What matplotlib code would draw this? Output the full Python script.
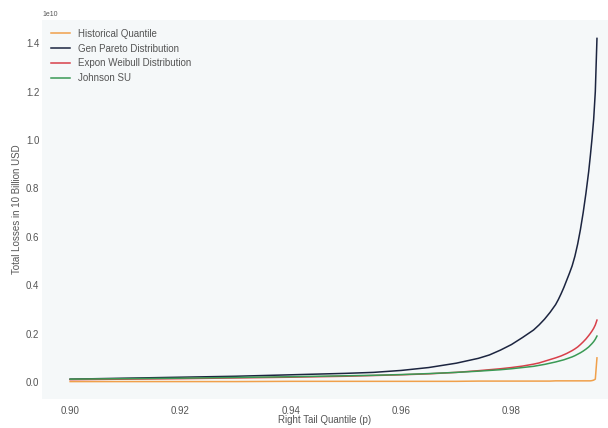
import matplotlib
matplotlib.use("Agg")
import matplotlib.pyplot as plt
import numpy as np

# Right tail quantile levels
p = [0.900, 0.910, 0.920, 0.930, 0.940, 0.950, 0.955, 0.960, 0.965, 0.970,
     0.974, 0.976, 0.978, 0.980, 0.982, 0.984, 0.985, 0.986, 0.987, 0.988,
     0.9885, 0.989, 0.9895, 0.990, 0.9905, 0.991, 0.9915, 0.992, 0.9925, 0.993,
     0.9935, 0.994, 0.9943, 0.9946, 0.9949, 0.9952, 0.9955]

# Total losses, in units of 1e10 USD
historical = [0.002, 0.002, 0.002, 0.002, 0.003, 0.003, 0.003, 0.003, 0.003, 0.003,
              0.004, 0.004, 0.004, 0.004, 0.004, 0.004, 0.004, 0.004, 0.004, 0.005,
              0.005, 0.005, 0.005, 0.005, 0.005, 0.005, 0.005, 0.005, 0.005, 0.005,
              0.005, 0.005, 0.005, 0.006, 0.008, 0.012, 0.100]
gen_pareto = [0.012, 0.016, 0.020, 0.024, 0.030, 0.036, 0.040, 0.048, 0.060, 0.078,
              0.098, 0.112, 0.132, 0.155, 0.184, 0.215, 0.236, 0.260, 0.288, 0.320,
              0.341, 0.365, 0.391, 0.420, 0.449, 0.480, 0.520, 0.570, 0.630, 0.700,
              0.780, 0.870, 0.935, 1.005, 1.085, 1.200, 1.420]
expon_weibull = [0.010, 0.012, 0.014, 0.017, 0.020, 0.024, 0.027, 0.030, 0.034, 0.040,
                 0.047, 0.051, 0.055, 0.060, 0.066, 0.074, 0.079, 0.086, 0.093, 0.100,
                 0.104, 0.108, 0.113, 0.118, 0.124, 0.130, 0.137, 0.145, 0.155, 0.166,
                 0.178, 0.192, 0.201, 0.211, 0.222, 0.236, 0.256]
johnson_su = [0.012, 0.014, 0.016, 0.019, 0.022, 0.026, 0.028, 0.031, 0.035, 0.040,
              0.045, 0.048, 0.051, 0.055, 0.060, 0.065, 0.069, 0.073, 0.078, 0.083,
              0.086, 0.089, 0.092, 0.096, 0.100, 0.104, 0.109, 0.115, 0.121, 0.128,
              0.136, 0.145, 0.152, 0.159, 0.167, 0.177, 0.190]

plt.rcParams['font.family'] = ['Liberation Sans', 'DejaVu Sans']
txt = '#555555'

fig = plt.figure(figsize=(6.08, 4.28), dpi=100)
ax = fig.add_axes([42/608, 29/428, 566/608, 379/428])
ax.set_facecolor('#f5f8f9')

scale = 1e10
ax.plot(p, np.array(historical) * scale, color='#f0a04b', lw=1.1, label='Historical Quantile')
ax.plot(p, np.array(gen_pareto) * scale, color='#1c2540', lw=1.1, label='Gen Pareto Distribution')
ax.plot(p, np.array(expon_weibull) * scale, color='#d8404a', lw=1.1, label='Expon Weibull Distribution')
ax.plot(p, np.array(johnson_su) * scale, color='#3a9a55', lw=1.1, label='Johnson SU')

ax.set_xlim(0.8949, 0.9975)
ax.set_ylim(-0.07e10, 1.496e10)
ax.set_xticks([0.90, 0.92, 0.94, 0.96, 0.98])
ax.set_yticks(np.arange(0, 1.41, 0.2) * scale)

for s in ax.spines.values():
    s.set_visible(False)
ax.tick_params(axis='both', length=0, labelsize=7, colors=txt)
ax.tick_params(axis='x', pad=5)
ax.tick_params(axis='y', pad=2)
ax.yaxis.get_offset_text().set_fontsize(5)
ax.yaxis.get_offset_text().set_color(txt)

ax.set_xlabel('Right Tail Quantile (p)', fontsize=7, color=txt, labelpad=-1)
ax.set_ylabel('Total Losses in 10 Billion USD', fontsize=7, color=txt, labelpad=3)

leg = ax.legend(loc='upper left', frameon=False, fontsize=7, handlelength=2.0,
                labelspacing=0.5)
for t in leg.get_texts():
    t.set_color(txt)

fig.savefig('out.png', dpi=100, facecolor='white')
